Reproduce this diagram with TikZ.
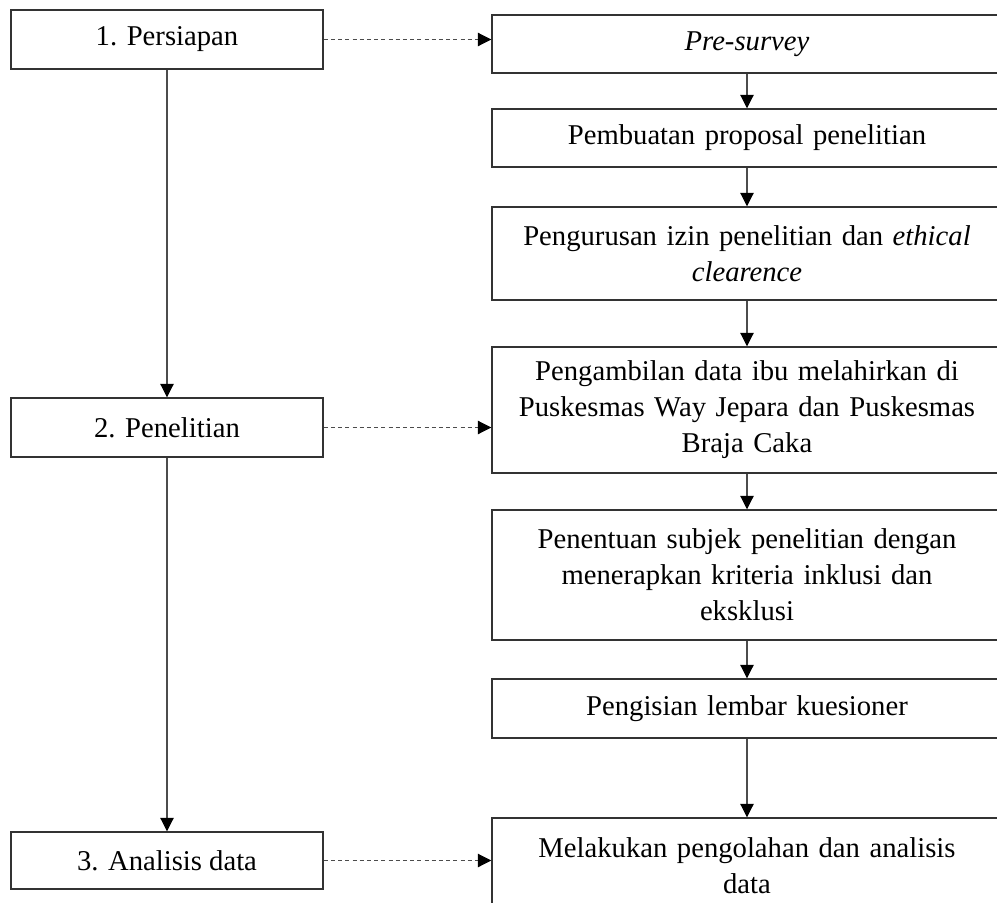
\documentclass[tikz,border=0pt]{standalone}
\usepackage{fontspec}
\setmainfont{Liberation Serif}
\usetikzlibrary{arrows.meta}

\tikzset{
  stagebox/.style={draw=black!80,line width=1.1pt,inner sep=0pt,minimum width=234pt,align=center,font=\fontsize{21.5}{27}\selectfont},
  stepbox/.style={draw=black!80,line width=1.1pt,inner sep=0pt,minimum width=382.5pt,text width=370pt,align=center,font=\fontsize{21.5}{27}\selectfont},
  flow/.style={draw=black!70,line width=0.8pt,-{Triangle[length=10pt,width=10pt,color=black]}},
  link/.style={flow,dash pattern=on 3pt off 2.4pt}
}

\begin{document}
\begin{tikzpicture}[x=0.75pt,y=0.75pt,yscale=-1,xscale=1]
\useasboundingbox (0,0) rectangle (997,903);

% Stage Node
\draw (167,39.5) node [stagebox,minimum height=44.25pt] (persiapan) {1. Persiapan};
\draw (167,427.5) node [stagebox,minimum height=44.25pt] (penelitian) {2. Penelitian};
\draw (167,860.5) node [stagebox,minimum height=42.75pt] (analisis) {3. Analisis data};

% Step Node
\draw (747,44) node [stepbox,minimum height=43.5pt] (presurvey) {\textit{Pre-survey}};
\draw (747,138) node [stepbox,minimum height=43.5pt] (proposal) {Pembuatan proposal penelitian};
\draw (747,253.5) node [stepbox,minimum height=69.75pt] (izin) {Pengurusan izin penelitian dan \textit{ethical}\\ \textit{clearence}};
\draw (747,410) node [stepbox,minimum height=94.5pt] (ambil) {Pengambilan data ibu melahirkan di\\ Puskesmas Way Jepara dan Puskesmas\\ Braja Caka};
\draw (747,575) node [stepbox,minimum height=97.5pt] (subjek) {Penentuan subjek penelitian dengan\\ menerapkan kriteria inklusi dan\\ eksklusi};
\draw (747,708.5) node [stepbox,minimum height=44.25pt] (isi) {Pengisian lembar kuesioner};
\draw (747,866) node [stepbox,minimum height=72pt] (olah) {Melakukan pengolahan dan analisis\\ data};

% Stage arrows
\draw [flow] (persiapan) -- (penelitian);
\draw [flow] (penelitian) -- (analisis);

% Step arrows
\draw [flow] (presurvey) -- (proposal);
\draw [flow] (proposal) -- (izin);
\draw [flow] (izin) -- (ambil);
\draw [flow] (ambil) -- (subjek);
\draw [flow] (subjek) -- (isi);
\draw [flow] (isi) -- (olah);

% Dashed links
\draw [link] (persiapan.east) -- (persiapan.east -| presurvey.west);
\draw [link] (penelitian.east) -- (penelitian.east -| ambil.west);
\draw [link] (analisis.east) -- (analisis.east -| olah.west);

\end{tikzpicture}
\end{document}
